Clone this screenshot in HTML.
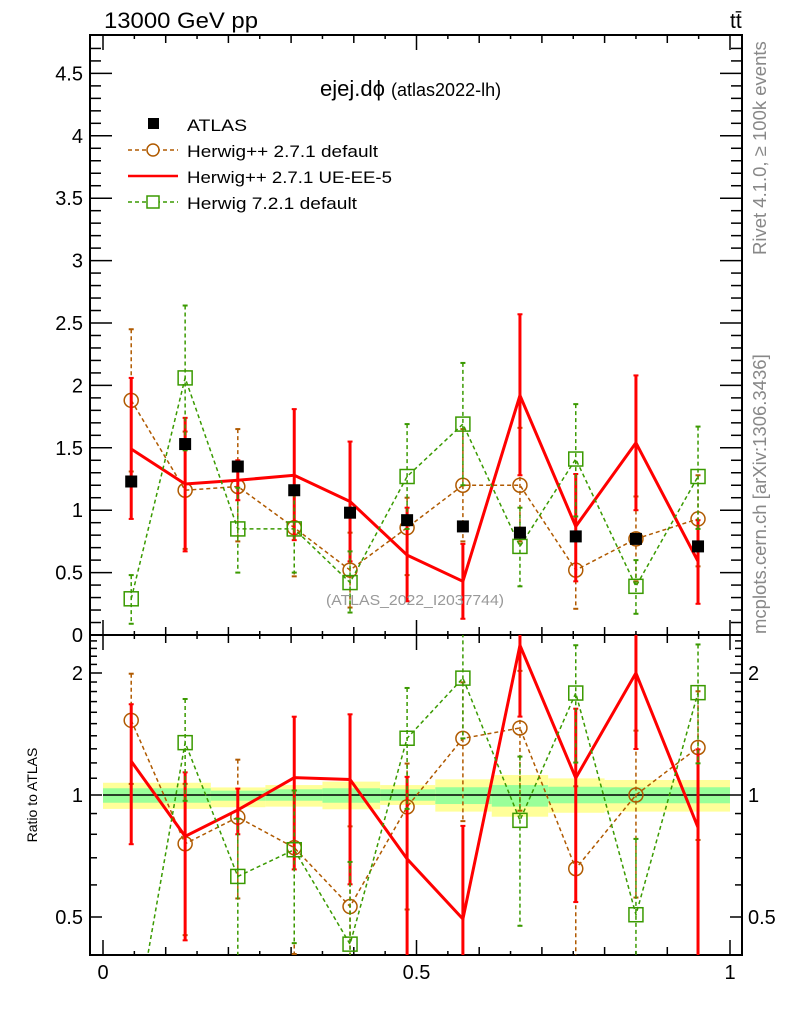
<!DOCTYPE html>
<html><head><meta charset="utf-8"><style>
html,body{margin:0;padding:0;background:#fff;overflow:hidden;}
svg{display:block;font-family:"Liberation Sans",sans-serif;}
</style></head><body>
<svg id="c" width="786" height="1024" viewBox="0 0 786 1024">
<defs>
<clipPath id="cm"><rect x="90" y="35" width="652" height="600"/></clipPath>
<clipPath id="cr"><rect x="90" y="635" width="652" height="320"/></clipPath>
</defs>
<g id="ratioBand" clip-path="url(#cr)"></g>
<g id="axes"></g>
<g id="mainMarks" clip-path="url(#cm)"></g>
<g id="ratioMarks" clip-path="url(#cr)"></g>
<text x="104" y="28" font-size="22" textLength="154" lengthAdjust="spacingAndGlyphs">13000 GeV pp</text>
<text x="730" y="28" font-size="21">tt̄</text>
<text x="320" y="96" font-size="22">ejej.dϕ <tspan font-size="18">(atlas2022-lh)</tspan></text>
<text x="326" y="605" font-size="15" textLength="178" lengthAdjust="spacingAndGlyphs" fill="#999">(ATLAS_2022_I2037744)</text>
<text transform="translate(766,255) rotate(-90)" font-size="18.5" fill="#888">Rivet 4.1.0, ≥ 100k events</text>
<text transform="translate(766,634) rotate(-90)" font-size="18.5" fill="#888">mcplots.cern.ch [arXiv:1306.3436]</text>
<text transform="translate(37,795) rotate(-90)" font-size="14" text-anchor="middle">Ratio to ATLAS</text>
<g font-size="17">
<rect x="148" y="118" width="11" height="11" fill="#000"/>
<text x="187" y="131" textLength="60" lengthAdjust="spacingAndGlyphs">ATLAS</text>
<line x1="128" y1="150" x2="178" y2="150" stroke="#b05a00" stroke-width="1.5" stroke-dasharray="4,3"/>
<circle cx="153" cy="150" r="6" fill="#fff" stroke="#b05a00" stroke-width="1.5"/>
<text x="187" y="157" textLength="191" lengthAdjust="spacingAndGlyphs">Herwig++ 2.7.1 default</text>
<line x1="128" y1="176" x2="178" y2="176" stroke="#f00" stroke-width="2.5"/>
<text x="187" y="183" textLength="205" lengthAdjust="spacingAndGlyphs">Herwig++ 2.7.1 UE-EE-5</text>
<line x1="128" y1="202" x2="178" y2="202" stroke="#3a9a00" stroke-width="1.5" stroke-dasharray="4,3"/>
<rect x="147" y="196" width="12" height="12" fill="#fff" stroke="#3a9a00" stroke-width="1.5"/>
<text x="187" y="209" textLength="170" lengthAdjust="spacingAndGlyphs">Herwig 7.2.1 default</text>
</g>
</svg>
<script>
const xCenters=[0.045,0.131,0.215,0.305,0.394,0.485,0.574,0.665,0.754,0.850,0.949];
const atlas=[1.23,1.53,1.35,1.16,0.98,0.92,0.87,0.82,0.79,0.77,0.71];
const hppDef=[1.88,1.16,1.19,0.86,0.52,0.86,1.20,1.20,0.52,0.77,0.93];
const hppDefUp=[2.45,1.63,1.65,1.19,0.82,1.10,1.65,1.66,0.83,1.11,1.28];
const hppDefLo=[1.31,0.69,0.75,0.47,0.22,0.48,0.75,0.75,0.21,0.43,0.55];
const hppUE=[1.49,1.21,1.24,1.28,1.07,0.64,0.43,1.92,0.87,1.54,0.59];
const hppUEUp=[2.06,1.74,1.40,1.81,1.55,1.02,0.73,2.57,1.29,2.08,0.92];
const hppUELo=[0.93,0.67,1.08,0.76,0.59,0.27,0.13,1.28,0.43,1.00,0.25];
const h7=[0.29,2.06,0.85,0.85,0.42,1.27,1.69,0.71,1.41,0.39,1.27];
const h7Up=[0.48,2.64,1.18,1.19,0.67,1.69,2.18,1.02,1.85,0.60,1.67];
const h7Lo=[0.09,1.48,0.50,0.50,0.18,0.85,1.20,0.39,0.95,0.17,0.85];
const bandEdges=[0,0.172,0.259,0.35,0.442,0.53,0.62,0.71,0.80,1.0];
const bandYelHi=[1.072,1.044,1.058,1.079,1.058,1.093,1.120,1.099,1.089];
const bandYelLo=[0.924,0.933,0.936,0.922,0.945,0.910,0.884,0.904,0.910];
const bandGrnHi=[1.039,1.025,1.033,1.039,1.033,1.045,1.058,1.048,1.045];
const bandGrnLo=[0.957,0.968,0.968,0.957,0.968,0.950,0.936,0.954,0.954];
const mainYTicks=[0,0.5,1,1.5,2,2.5,3,3.5,4,4.5];
const mainYLabels=["0","0.5","1","1.5","2","2.5","3","3.5","4","4.5"];
const ratioYTicks=[0.5,1,2];
const ratioYLabels=["0.5","1","2"];
const ratioMinor=[0.4,0.6,0.7,0.8,0.9,1.1,1.2,1.3,1.4,1.5,1.6,1.7,1.8,1.9,2.1,2.2,2.3,2.4];
const xTicks=[0,0.5,1];
const xLabels=["0","0.5","1"];

const NS="http://www.w3.org/2000/svg";
const R=742;
const X=v=>103+627*v;
const Y=v=>635-124.8*v;
const YR=r=>795-122*Math.log2(r);
function mk(parent,tag,attrs){const e=document.createElementNS(NS,tag);for(const k in attrs)e.setAttribute(k,attrs[k]);parent.appendChild(e);return e;}
const axes=document.getElementById('axes');
const band=document.getElementById('ratioBand');
const mm=document.getElementById('mainMarks');
const rm=document.getElementById('ratioMarks');

for(let i=0;i<bandEdges.length-1;i++){
  const x1=X(bandEdges[i]),x2=X(bandEdges[i+1]);
  let r=mk(band,'rect',{x:x1,y:YR(bandYelHi[i]),width:x2-x1,height:YR(bandYelLo[i])-YR(bandYelHi[i]),fill:'#ffff99'});
  
  
  r=mk(band,'rect',{x:x1,y:YR(bandGrnHi[i]),width:x2-x1,height:YR(bandGrnLo[i])-YR(bandGrnHi[i]),fill:'#99ff99'});
  
  
}
let l1=mk(band,'line',{x1:X(0),x2:X(1),y1:YR(1),y2:YR(1),stroke:'#000','stroke-width':1.5});



mk(axes,'rect',{x:90,y:35,width:R-90,height:600,fill:'none',stroke:'#000','stroke-width':2});
mk(axes,'rect',{x:90,y:635,width:R-90,height:320,fill:'none',stroke:'#000','stroke-width':2});
for(let k=0;k<=47;k++){const v=k*0.1;const y=Y(v);if(y<35)break;const maj=(k%5===0);const L=maj?22:11;
  mk(axes,'line',{x1:90,x2:90+L,y1:y,y2:y,stroke:'#000','stroke-width':1.5});
  mk(axes,'line',{x1:R,x2:R-L,y1:y,y2:y,stroke:'#000','stroke-width':1.5});}
mainYTicks.forEach((v,i)=>{const t=mk(axes,'text',{x:83,y:Y(v)+7,'font-size':20,'text-anchor':'end'});t.textContent=mainYLabels[i];
  
  });
for(let k=0;k<=20;k++){const v=k*0.05;const x=X(v);const L=(k%10===0)?15:(k%2===0?8:4);
  mk(axes,'line',{x1:x,x2:x,y1:635,y2:635-L,stroke:'#000','stroke-width':1.5});
  mk(axes,'line',{x1:x,x2:x,y1:35,y2:35+L,stroke:'#000','stroke-width':1.5});
  mk(axes,'line',{x1:x,x2:x,y1:955,y2:955-L,stroke:'#000','stroke-width':1.5});
  mk(axes,'line',{x1:x,x2:x,y1:635,y2:635+L,stroke:'#000','stroke-width':1.5});}
xTicks.forEach((v,i)=>{const t=mk(axes,'text',{x:X(v),y:979,'font-size':20,'text-anchor':'middle'});t.textContent=xLabels[i];
  
  });
ratioYTicks.forEach(r=>{const y=YR(r);mk(axes,'line',{x1:90,x2:102,y1:y,y2:y,stroke:'#000','stroke-width':1.5});mk(axes,'line',{x1:R,x2:R-12,y1:y,y2:y,stroke:'#000','stroke-width':1.5});});
ratioMinor.forEach(r=>{const y=YR(r);if(y<635||y>955)return;mk(axes,'line',{x1:90,x2:97,y1:y,y2:y,stroke:'#000','stroke-width':1.5});mk(axes,'line',{x1:R,x2:R-7,y1:y,y2:y,stroke:'#000','stroke-width':1.5});});
ratioYTicks.forEach((r,i)=>{let t=mk(axes,'text',{x:83,y:YR(r)+7,'font-size':20,'text-anchor':'end'});t.textContent=ratioYLabels[i];
  
  
  t=mk(axes,'text',{x:748,y:YR(r)+7,'font-size':20});t.textContent=ratioYLabels[i];
  
  });

function series(g,yf,vals,up,lo,norm,style,name){
  const f=(a,i)=>norm?a[i]/norm[i]:a[i];
  const pts=xCenters.map((x,i)=>X(x)+','+yf(f(vals,i))).join(' ');
  const pl=mk(g,'polyline',{points:pts,fill:'none',stroke:style.c,'stroke-width':style.w,'stroke-dasharray':style.d||'none'});
  
  
  xCenters.forEach((xv,i)=>{const x=X(xv),yu=yf(f(up,i)),yl=yf(f(lo,i));
    const e=mk(g,'line',{x1:x,x2:x,y1:yu,y2:yl,stroke:style.c,'stroke-width':style.w,'stroke-dasharray':style.d||'none'});
    
    
    mk(g,'line',{x1:x-2.5,x2:x+2.5,y1:yu,y2:yu,stroke:style.c,'stroke-width':2});
    mk(g,'line',{x1:x-2.5,x2:x+2.5,y1:yl,y2:yl,stroke:style.c,'stroke-width':2});
    const y=yf(f(vals,i));let m;
    if(style.m==='circle')m=mk(g,'circle',{cx:x,cy:y,r:7,fill:'none',stroke:style.c,'stroke-width':1.5});
    else if(style.m==='square')m=mk(g,'rect',{x:x-7,y:y-7,width:14,height:14,fill:'none',stroke:style.c,'stroke-width':1.5});
    if(m){
    }
  });
}
const sOr={c:'#b05a00',w:1.5,d:'4,3',m:'circle'};
const sRd={c:'#ff0000',w:3,m:null};
const sGr={c:'#3a9a00',w:1.5,d:'4,3',m:'square'};
series(mm,Y,hppDef,hppDefUp,hppDefLo,null,sOr,'herwigpp-default');
series(mm,Y,hppUE,hppUEUp,hppUELo,null,sRd,'herwigpp-ueee5');
series(mm,Y,h7,h7Up,h7Lo,null,sGr,'herwig7-default');
xCenters.forEach((xv,i)=>{const r=mk(mm,'rect',{x:X(xv)-6,y:Y(atlas[i])-6,width:12,height:12,fill:'#000'});
  
  });
series(rm,YR,hppDef,hppDefUp,hppDefLo,atlas,sOr,'ratio-herwigpp-default');
series(rm,YR,hppUE,hppUEUp,hppUELo,atlas,sRd,'ratio-herwigpp-ueee5');
series(rm,YR,h7,h7Up,h7Lo,atlas,sGr,'ratio-herwig7-default');
</script>
</body></html>
